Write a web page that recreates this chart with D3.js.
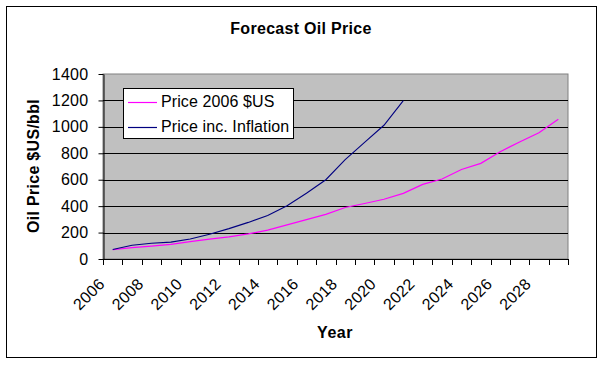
<!DOCTYPE html>
<html><head><meta charset="utf-8">
<script src="https://cdn.jsdelivr.net/npm/d3@7/dist/d3.min.js"></script>
<style>
body{margin:0;background:#fff;}
text{font-family:"Liberation Sans",Arial,sans-serif;}
</style></head>
<body><svg id="c" width="603" height="365"></svg>
<script>
const years = d3.range(2006, 2030);
const tickYears = [2006,2008,2010,2012,2014,2016,2018,2020,2022,2024,2026,2028];
const price2006 = [70, 86, 97, 111, 131, 150, 168, 190, 218, 258, 298, 338, 390, 420, 452, 497, 565, 605, 677, 724, 812, 886, 955, 1058];
const priceInfl = [72, 104, 119, 128, 151, 187, 230, 277, 330, 403, 497, 600, 752, 882, 1012, 1198];
const yTicks = [0,200,400,600,800,1000,1200,1400];
const seriesNames = ["Price 2006 $US", "Price inc. Inflation"];
const seriesColors = ["#ff00ff", "#000080"];

const svg = d3.select("#c");
const L=103, R=568, T=74, B=259;
svg.append("rect").attr("x",6.5).attr("y",6.5).attr("width",590).attr("height",351)
  .attr("fill","#fff").attr("stroke","#000").attr("stroke-width",1);

const x = d3.scaleBand().domain(years).range([L,R]).padding(0);
const y = d3.scaleLinear().domain([0,1400]).range([B,T]);

svg.append("rect").attr("x",L).attr("y",T).attr("width",R-L).attr("height",B-T)
  .attr("fill","#c0c0c0").attr("stroke","#808080").attr("stroke-width",1);

// gridlines
svg.append("g").selectAll("line").data(yTicks.filter(d=>d>0&&d<1400)).join("line")
  .attr("x1",L).attr("x2",R).attr("y1",d=>Math.round(y(d))+0.5).attr("y2",d=>Math.round(y(d))+0.5)
  .attr("stroke","#000").attr("stroke-width",1);

// y axis
const yAx = svg.append("g").attr("transform",`translate(${L+0.5},0)`)
  .call(d3.axisLeft(y).tickValues(yTicks).tickFormat(d3.format("d")).tickSize(5).tickPadding(10).tickSizeOuter(0));
yAx.select(".domain").attr("stroke","#000");
yAx.selectAll(".tick line").attr("stroke","#000");
yAx.selectAll(".tick text").attr("font-size",16).attr("letter-spacing",0.3).attr("fill","#000").attr("font-family","Liberation Sans, Arial");

// x axis line + ticks at category boundaries
svg.append("line").attr("x1",L).attr("x2",R+1).attr("y1",B+0.5).attr("y2",B+0.5).attr("stroke","#000");
const bounds = years.map(d=>x(d)).concat([x(years[years.length-1])+x.bandwidth()]);
svg.append("g").selectAll("line").data(bounds).join("line")
  .attr("x1",d=>Math.round(d)+0.5).attr("x2",d=>Math.round(d)+0.5)
  .attr("y1",B).attr("y2",B+6).attr("stroke","#000");
svg.append("g").selectAll("text").data(tickYears).join("text")
  .attr("transform",d=>`translate(${x(d)+x.bandwidth()/2-7},${B+26}) rotate(-45)`)
  .attr("text-anchor","end").attr("font-size",16).attr("letter-spacing",0.3).attr("fill","#000").text(d=>d);

// lines
const line = d3.line().x((d,i)=>x(years[i])+x.bandwidth()/2).y(d=>y(d));
svg.append("path").datum(price2006).attr("d",line).attr("fill","none")
  .attr("stroke",seriesColors[0]).attr("stroke-width",1.2);
svg.append("path").datum(priceInfl).attr("d",line).attr("fill","none")
  .attr("stroke",seriesColors[1]).attr("stroke-width",1.1);

// titles
svg.append("text").attr("x",301).attr("y",34).attr("text-anchor","middle")
  .attr("font-size",16).attr("font-weight","bold").attr("letter-spacing",0.3).text("Forecast Oil Price");
svg.append("text").attr("x",335).attr("y",338).attr("text-anchor","middle")
  .attr("font-size",16).attr("font-weight","bold").attr("letter-spacing",0.5).text("Year");
svg.append("text").attr("transform","translate(39,166) rotate(-90)").attr("text-anchor","middle")
  .attr("font-size",16).attr("font-weight","bold").attr("letter-spacing",0.3).text("Oil Price $US/bbl");

// legend
const lg = svg.append("g");
lg.append("rect").attr("x",123.5).attr("y",88.5).attr("width",170).attr("height",50)
  .attr("fill","#fff").attr("stroke","#000");
seriesNames.forEach((n,i)=>{
  const cy = 102.5 + i*25;
  lg.append("line").attr("x1",128).attr("x2",157).attr("y1",cy).attr("y2",cy)
    .attr("stroke",seriesColors[i]).attr("stroke-width",1.2);
  lg.append("text").attr("x",161).attr("y",107+i*25).attr("font-size",16).attr("letter-spacing",0.1).text(n);
});
</script></body></html>
